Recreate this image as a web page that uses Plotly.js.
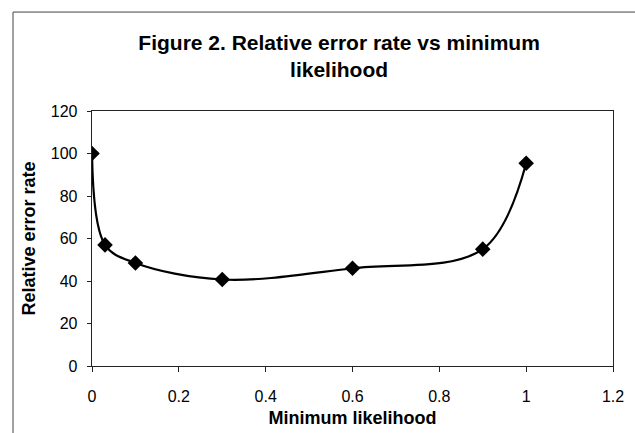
<!DOCTYPE html>
<html>
<head>
<meta charset="utf-8">
<script src="https://cdn.plot.ly/plotly-3.0.1.min.js"></script>
<style>
  html, body { margin: 0; padding: 0; background: #fff; }
  #chart { width: 635px; height: 433px; }
</style>
</head>
<body>
<div id="chart"></div>
<script>
const minLikelihood = [0, 0.03, 0.1, 0.3, 0.6, 0.9, 1.0];
const relErrorRate = [100, 57, 48.5, 40.7, 46, 55, 95.4];
const xTickVals = [0, 0.2, 0.4, 0.6, 0.8, 1, 1.2];
const xTickText = ['0', '0.2', '0.4', '0.6', '0.8', '1', '1.2'];
const yTickVals = [0, 20, 40, 60, 80, 100, 120];

const FONT = 'Liberation Sans, Arial, Helvetica, sans-serif';

const trace = {
  x: minLikelihood,
  y: relErrorRate,
  type: 'scatter',
  mode: 'lines+markers',
  line: { shape: 'spline', smoothing: 1, color: '#000', width: 2.2 },
  marker: { symbol: 'diamond', size: 12, color: '#000' },
  hoverinfo: 'x+y',
  showlegend: false
};

const axisCommon = {
  showgrid: false,
  zeroline: false,
  showline: true,
  mirror: true,
  linecolor: '#222',
  linewidth: 1.3,
  ticks: 'outside',
  tickcolor: '#222',
  tickwidth: 1,
  tickfont: { family: FONT, size: 16, color: '#000' }
};

const layout = {
  width: 635,
  height: 433,
  margin: { l: 92, r: 22, t: 111, b: 67 },
  paper_bgcolor: '#fff',
  plot_bgcolor: '#fff',
  font: { family: FONT, color: '#000' },
  title: {
    text: 'Figure 2. Relative error rate vs minimum<br>likelihood',
    font: { family: FONT, size: 21, weight: 'bold', color: '#000' },
    xref: 'container', x: 0.534, xanchor: 'center',
    yref: 'container', y: 0.885, yanchor: 'middle'
  },
  xaxis: Object.assign({}, axisCommon, {
    range: [0, 1.2],
    tickvals: xTickVals,
    ticktext: xTickText,
    ticklen: 5,
    ticklabelstandoff: 10,
    title: { text: 'Minimum likelihood', font: { family: FONT, size: 18, weight: 'bold', color: '#000' }, standoff: 8 }
  }),
  yaxis: Object.assign({}, axisCommon, {
    range: [0, 120],
    tickvals: yTickVals,
    ticklen: 4,
    ticklabelstandoff: 6,
    title: { text: 'Relative error rate', font: { family: FONT, size: 18, weight: 'bold', color: '#000' }, standoff: 10 }
  }),
  shapes: [
    { type: 'rect', xref: 'paper', yref: 'paper', x0: -0.1516, x1: 1.2, y0: -0.4, y1: 1.388,
      line: { color: '#444', width: 1 }, fillcolor: 'rgba(0,0,0,0)', layer: 'below' }
  ]
};

Plotly.newPlot('chart', [trace], layout, { displayModeBar: false, staticPlot: true });
</script>
</body>
</html>
